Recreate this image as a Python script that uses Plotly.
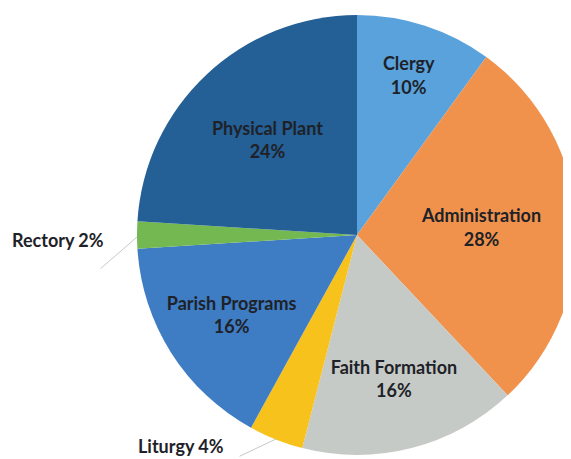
import plotly.graph_objects as go

labels = ["Clergy", "Administration", "Faith Formation", "Liturgy",
          "Parish Programs", "Rectory", "Physical Plant"]
values = [10, 28, 16, 4, 16, 2, 24]
colors = ["#5aa2dc", "#f0924c", "#c6cac6", "#f8c21c",
          "#3e7cc4", "#74b852", "#245f96"]
outside = ["Liturgy", "Rectory"]

W, H = 571, 459
OFF = 8  # page body margin offset
cx, cy, r = 357 - OFF, 235 - OFF, 220

texts = ["" if l in outside else f"{l}<br>{v}%" for l, v in zip(labels, values)]

fig = go.Figure(go.Pie(
    labels=labels, values=values, sort=False, direction="clockwise", rotation=0,
    text=texts, textinfo="text", textposition="inside",
    insidetextorientation="horizontal",
    marker=dict(colors=colors, line=dict(width=0)),
    textfont=dict(family="Lato", size=18, color="#1e2228", weight="bold"),
    domain=dict(x=[(cx - r) / W, (cx + r) / W], y=[1 - (cy + r) / H, 1 - (cy - r) / H]),
    showlegend=False, hoverinfo="label+percent",
))

def px(x, y):
    return (x - OFF) / W, 1 - (y - OFF) / H

lab_font = dict(family="Lato", size=18, color="#1e2228", weight="bold")
annots = []
# Rectory label and leader line
x0, y0 = px(58, 240)
annots.append(dict(x=x0, y=y0, xref="paper", yref="paper", text="Rectory 2%",
                   xanchor="center", yanchor="middle", showarrow=False, font=lab_font))
hx, hy = px(137, 237)
annots.append(dict(x=hx, y=hy, xref="paper", yref="paper", text="", showarrow=True,
                   arrowhead=0, arrowwidth=1, arrowcolor="#c8c8c8", ax=-38, ay=33))
# Liturgy label and leader line
x0, y0 = px(181, 446)
annots.append(dict(x=x0, y=y0, xref="paper", yref="paper", text="Liturgy 4%",
                   xanchor="center", yanchor="middle", showarrow=False, font=lab_font))
hx, hy = px(276, 439)
annots.append(dict(x=hx, y=hy, xref="paper", yref="paper", text="", showarrow=True,
                   arrowhead=0, arrowwidth=1, arrowcolor="#c8c8c8", ax=-38, ay=18))

fig.update_layout(width=W, height=H, margin=dict(l=0, r=0, t=0, b=0),
                  paper_bgcolor="white", plot_bgcolor="white", annotations=annots)
fig.write_html("out.html")
